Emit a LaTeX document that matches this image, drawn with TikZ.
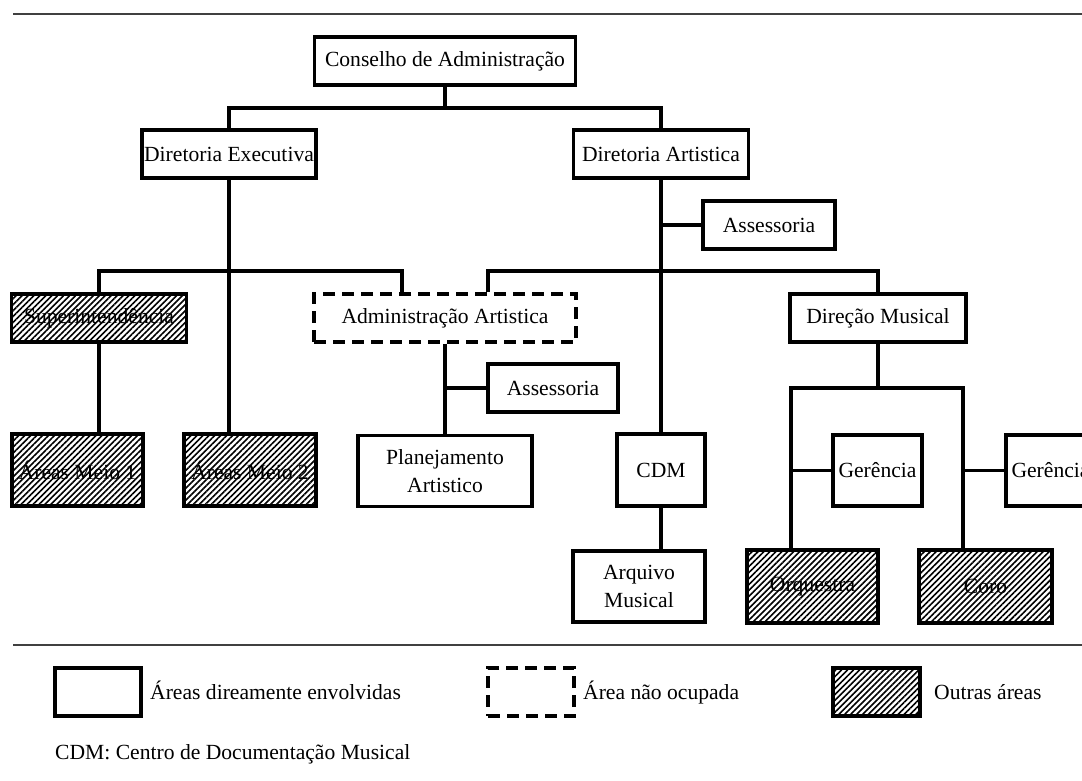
\documentclass[tikz,border=0pt]{standalone}
\usepackage{fontspec}
\setmainfont{Liberation Serif}
\usetikzlibrary{patterns.meta}

\tikzset{
  lbl/.style={font=\fontsize{21.6}{28}\selectfont},
  orgbox/.style={lbl, draw, line width=3.4pt, inner sep=0pt, align=center, fill=white},
  vacant/.style={orgbox, dash pattern=on 12pt off 7pt},
  other/.style={orgbox, pattern={Lines[angle=45,distance=4.2pt,line width=1.6pt]}},
  link/.style={line width=3.4pt},
  rule/.style={line width=2.2pt, black!75},
}

\begin{document}
\begin{tikzpicture}[x=1pt,y=-1pt]
\path[use as bounding box] (0,0) rectangle (1082,781);
\clip (0,0) rectangle (1082,781);

% header and footer rules
\draw[rule] (13,14) -- (1082,14);
\draw[rule] (13,645) -- (1082,645);

% boards
\node[orgbox, minimum width=261pt, minimum height=48pt] (cons) at (445,61) {Conselho de Administração};
\node[orgbox, minimum width=174pt, minimum height=48pt] (de) at (229,154) {Diretoria Executiva};
\node[orgbox, minimum width=175pt, minimum height=48pt] (da) at (661,154) {Diretoria Artistica};
\node[orgbox, minimum width=132pt, minimum height=48pt] (ass1) at (769,225) {Assessoria};

% second level
\node[other, minimum width=175pt, minimum height=48pt] (sup) at (99,318) {Superintendência};
\node[vacant, minimum width=262pt, minimum height=48pt] (adm) at (445,318) {Administração Artistica};
\node[orgbox, minimum width=176pt, minimum height=48pt] (dm) at (878,318) {Direção Musical};
\node[orgbox, minimum width=130pt, minimum height=48pt] (ass2) at (553,388) {Assessoria};

% third level
\node[other, minimum width=131pt, minimum height=72pt] (am1) at (77.5,470) {Áreas Meio 1};
\node[other, minimum width=132pt, minimum height=72pt] (am2) at (250,470) {Áreas Meio 2};
\node[orgbox, minimum width=174pt, minimum height=71pt, text depth=0pt] (plan) at (445,471) {Planejamento\\Artistico};
\node[orgbox, minimum width=88pt, minimum height=72pt] (cdm) at (661,470) {CDM};
\node[orgbox, minimum width=89pt, minimum height=71pt] (ger1) at (877.5,470.5) {Gerência};
\node[orgbox, minimum width=89pt, minimum height=71pt] (ger2) at (1050.5,470.5) {Gerência};

% fourth level
\node[orgbox, minimum width=132pt, minimum height=71pt] (arq) at (639,586.5) {Arquivo\\Musical};
\node[other, minimum width=131pt, minimum height=73pt] (orq) at (812.5,586.5) {Orquestra};
\node[other, minimum width=133pt, minimum height=73pt] (coro) at (985.5,586.5) {Coro};

% junction points
\coordinate (j0) at (445,108);
\coordinate (j1) at (229,271);
\coordinate (j2) at (661,271);
\coordinate (j3) at (878,388);
\coordinate (admL) at ([xshift=-43pt]adm.north);
\coordinate (admR) at ([xshift=43pt]adm.north);
\coordinate (orqT) at ([xshift=-21.5pt]orq.north);
\coordinate (coroT) at ([xshift=-22.5pt]coro.north);

% connectors
\draw[link] (cons.south) -- (j0);
\draw[link] (de.north) |- (j0) -| (da.north);
\draw[link] (de.south) -- (de.south |- am2.north);
\draw[link] (sup.north) |- (j1) -| (admL);
\draw[link] (sup.south) -- (sup.south |- am1.north);
\draw[link] (da.south) -- (da.south |- cdm.north);
\draw[link] (da.south |- ass1.west) -- (ass1.west);
\draw[link] (admR) |- (j2) -| (dm.north);
\draw[link] (adm.south) -- (adm.south |- plan.north);
\draw[link] (adm.south |- ass2.west) -- (ass2.west);
\draw[link] (cdm.south) -- (cdm.south |- arq.north);
\draw[link] (dm.south) -- (j3);
\draw[link] (orqT) |- (j3) -| (coroT);
\draw[link] (orqT |- ger1.west) -- (ger1.west);
\draw[link] (coroT |- ger2.west) -- (ger2.west);

% legend
\node[orgbox, minimum width=86pt, minimum height=48pt] (leg1) at (98,692) {};
\node[vacant, minimum width=86pt, minimum height=48pt] (leg2) at (531,692) {};
\node[other, minimum width=87pt, minimum height=48pt] (leg3) at (876.5,692) {};
\node[lbl, anchor=base west, inner sep=0pt] (legt1) at (150,699) {Áreas direamente envolvidas};
\node[lbl, anchor=base west, inner sep=0pt] (legt2) at (583,699) {Área não ocupada};
\node[lbl, anchor=base west, inner sep=0pt] (legt3) at (934,699) {Outras áreas};
\node[lbl, anchor=base west, inner sep=0pt] (note) at (55,759) {CDM: Centro de Documentação Musical};
\end{tikzpicture}
\end{document}
